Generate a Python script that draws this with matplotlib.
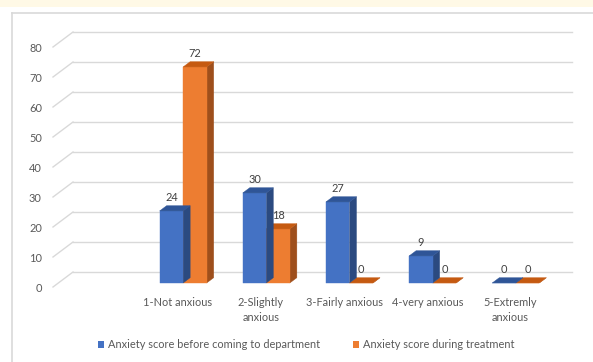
import numpy as np
import matplotlib.pyplot as plt
from matplotlib.patches import Polygon, Rectangle, Patch
from matplotlib.lines import Line2D

plt.rcParams['font.family'] = ['Lato', 'DejaVu Sans']

# categorias e series
categorias = ['1-Not anxious', '2-Slightly\nanxious', '3-Fairly anxious',
              '4-very anxious', '5-Extremly\nanxious']
antes = [24, 30, 27, 9, 0]
durante = [72, 18, 0, 0, 0]
series_nomes = ['Anxiety score before coming to department',
                'Anxiety score during treatment']
y_ticks = [0, 10, 20, 30, 40, 50, 60, 70, 80]

# cores (frente, topo, lado)
cor_azul = ('#4472C4', '#2F5597', '#2B4A80')
cor_laranja = ('#ED7D31', '#C55A11', '#9E4F1C')
cinza_txt = '#595959'
cinza_grade = '#D9D9D9'
fs = 7.9

W, H = 593, 362
fig = plt.figure(figsize=(W / 100, H / 100), dpi=100)
fig.patch.set_facecolor('white')

# faixa amarela no topo e moldura do grafico
fig.add_artist(Rectangle((0, 1 - 7 / H), 1, 7 / H, transform=fig.transFigure,
                         facecolor='#FFF9E6', edgecolor='none'))
fig.add_artist(Line2D([12 / W, 12 / W], [0, 1 - 13 / H], transform=fig.transFigure,
                      color=cinza_grade, lw=1.2))
fig.add_artist(Line2D([12 / W, 1], [1 - 13 / H, 1 - 13 / H], transform=fig.transFigure,
                      color=cinza_grade, lw=1.2))

# eixo no plano frontal: 0 -> y=287 px, 80 -> y=47 px
ax_l, ax_w = 53, 499
ax_b, ax_h = H - 287, 240
ax = fig.add_axes([ax_l / W, ax_b / H, ax_w / W, ax_h / H])
x0, x1 = -1.5, 4.5
ax.set_xlim(x0, x1)
ax.set_ylim(0, 80)
for s in ax.spines.values():
    s.set_visible(False)
ax.patch.set_alpha(0)

# deslocamento da profundidade (pixels -> unidades de dados)
px_x = ax_w / (x1 - x0)
px_y = ax_h / 80
kx = 20 / px_x
ky = 15 / px_y


def ponto(x, v, z):
    return (x + z * kx, v + z * ky)


# grade: parede de fundo + linhas diagonais do piso/lateral
x_parede = x1
for v in y_ticks:
    ax.plot([x0, x0 + kx], [v, v + ky], color=cinza_grade, lw=1.0, clip_on=False, zorder=1)
    ax.plot([x0 + kx, x_parede + kx], [v + ky, v + ky], color=cinza_grade, lw=1.0,
            clip_on=False, zorder=1)

# barras 3D
larg = 0.283
z_f, z_b = 0.27, 0.62
pos = np.arange(len(categorias))


def barra3d(xe, v, cores):
    xd = xe + larg
    frente = [ponto(xe, 0, z_f), ponto(xd, 0, z_f), ponto(xd, v, z_f), ponto(xe, v, z_f)]
    topo = [ponto(xe, v, z_f), ponto(xd, v, z_f), ponto(xd, v, z_b), ponto(xe, v, z_b)]
    lado = [ponto(xd, 0, z_f), ponto(xd, 0, z_b), ponto(xd, v, z_b), ponto(xd, v, z_f)]
    for pts, c in ((lado, cores[2]), (frente, cores[0]), (topo, cores[1])):
        ax.add_patch(Polygon(pts, closed=True, facecolor=c, edgecolor=c, lw=0.3,
                             clip_on=False, zorder=3))
    xc, yc = ponto(xe + larg / 2, v, z_f)
    ax.annotate(str(v), (xc, yc), xytext=(0, 9.5), textcoords='offset points',
                ha='center', va='center', fontsize=fs, color='#404040', zorder=5)


# desenha da direita para a esquerda para a sobreposicao ficar certa
for i in reversed(range(len(categorias))):
    barra3d(pos[i], durante[i], cor_laranja)
    barra3d(pos[i] - larg, antes[i], cor_azul)

ax.set_yticks(y_ticks)
ax.set_yticklabels([str(t) for t in y_ticks])
ax.set_xticks(pos)
ax.set_xticklabels(categorias, linespacing=1.35)
ax.tick_params(axis='both', length=0, labelsize=fs, labelcolor=cinza_txt)
ax.tick_params(axis='y', pad=8)
ax.tick_params(axis='x', pad=7.5)

# legenda
handles = [Patch(facecolor=cor_azul[0]), Patch(facecolor=cor_laranja[0])]
fig.legend(handles, series_nomes, loc='center', bbox_to_anchor=(306 / W, 1 - 345 / H),
           ncol=2, frameon=False, fontsize=fs, labelcolor=cinza_txt,
           handlelength=0.6, handleheight=0.6, handletextpad=0.3, columnspacing=3.0)

fig.savefig('out.png', dpi=100)
